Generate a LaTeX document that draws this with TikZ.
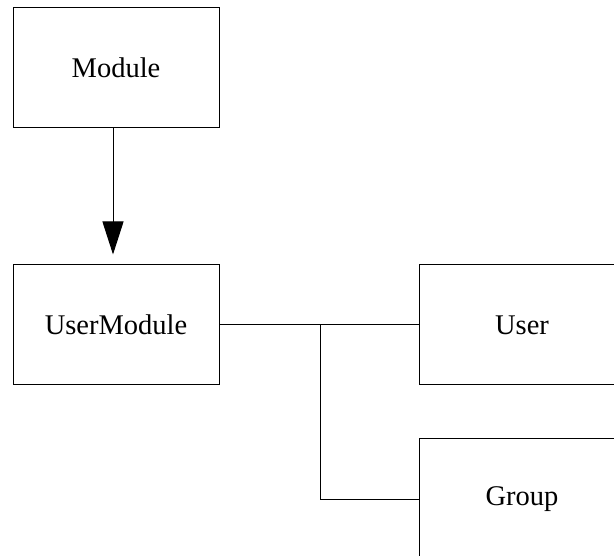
\documentclass[tikz,border=0pt]{standalone}
\usepackage{fontspec}
\setmainfont{Liberation Serif}
\usetikzlibrary{arrows.meta}
\tikzset{
  classbox/.style={draw, line width=1pt, minimum width=206pt, minimum height=120pt, inner sep=0pt, font=\fontsize{28.5}{32}\selectfont},
  link/.style={line width=1pt}
}
\begin{document}
\begin{tikzpicture}[x=1pt, y=-1pt]
\clip (0,0) rectangle (614,556);
\node[classbox] (module) at (116,68) {Module};
\node[classbox] (usermodule) at (116,325) {UserModule};
\node[classbox] (user) at (522,325) {User};
\node[classbox] (group) at (522,499) {Group};
\coordinate (junction) at (320,325);
\draw[link, -{Triangle[width=21pt, length=33pt]}, shorten >=10pt] ([xshift=-3pt]module.south) -- ([xshift=-3pt]usermodule.north);
\draw[link] (usermodule.east) -- (user.west);
\draw[link] (junction) |- (group.west);
\end{tikzpicture}
\end{document}
